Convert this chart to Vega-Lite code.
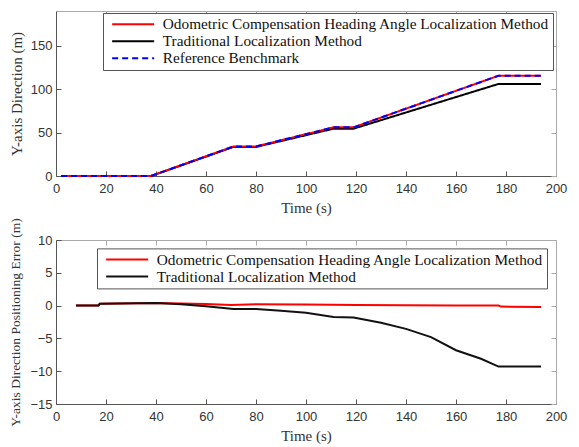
{
  "$schema": "https://vega.github.io/schema/vega-lite/v6.json",
  "background": "white",
  "padding": {"left": 8, "top": 10, "right": 5, "bottom": 5},
  "bounds": "flush",
  "spacing": 64,
  "datasets": {
    "top": [
      {"t": 2, "v": 0, "s": "Traditional Localization Method"},
      {"t": 38, "v": 0, "s": "Traditional Localization Method"},
      {"t": 71, "v": 33.5, "s": "Traditional Localization Method"},
      {"t": 80, "v": 33.5, "s": "Traditional Localization Method"},
      {"t": 111, "v": 54.5, "s": "Traditional Localization Method"},
      {"t": 119, "v": 54.5, "s": "Traditional Localization Method"},
      {"t": 177, "v": 106, "s": "Traditional Localization Method"},
      {"t": 194, "v": 106, "s": "Traditional Localization Method"},
      {"t": 2, "v": 0, "s": "Odometric Compensation Heading Angle Localization Method"},
      {"t": 38, "v": 0, "s": "Odometric Compensation Heading Angle Localization Method"},
      {"t": 71, "v": 34, "s": "Odometric Compensation Heading Angle Localization Method"},
      {"t": 80, "v": 34, "s": "Odometric Compensation Heading Angle Localization Method"},
      {"t": 111, "v": 56, "s": "Odometric Compensation Heading Angle Localization Method"},
      {"t": 119, "v": 56, "s": "Odometric Compensation Heading Angle Localization Method"},
      {"t": 177, "v": 115.5, "s": "Odometric Compensation Heading Angle Localization Method"},
      {"t": 194, "v": 115.5, "s": "Odometric Compensation Heading Angle Localization Method"},
      {"t": 2, "v": 0, "s": "Reference Benchmark"},
      {"t": 38, "v": 0, "s": "Reference Benchmark"},
      {"t": 71, "v": 34, "s": "Reference Benchmark"},
      {"t": 80, "v": 34, "s": "Reference Benchmark"},
      {"t": 111, "v": 56, "s": "Reference Benchmark"},
      {"t": 119, "v": 56, "s": "Reference Benchmark"},
      {"t": 177, "v": 115.5, "s": "Reference Benchmark"},
      {"t": 194, "v": 115.5, "s": "Reference Benchmark"}
    ],
    "bottom": [
      {"t": 8, "v": 0, "s": "Traditional Localization Method"},
      {"t": 17, "v": 0, "s": "Traditional Localization Method"},
      {"t": 17.5, "v": 0.3, "s": "Traditional Localization Method"},
      {"t": 40, "v": 0.4, "s": "Traditional Localization Method"},
      {"t": 50, "v": 0.2, "s": "Traditional Localization Method"},
      {"t": 60, "v": -0.1, "s": "Traditional Localization Method"},
      {"t": 71, "v": -0.5, "s": "Traditional Localization Method"},
      {"t": 80, "v": -0.5, "s": "Traditional Localization Method"},
      {"t": 90, "v": -0.8, "s": "Traditional Localization Method"},
      {"t": 100, "v": -1.1, "s": "Traditional Localization Method"},
      {"t": 111, "v": -1.75, "s": "Traditional Localization Method"},
      {"t": 119, "v": -1.8, "s": "Traditional Localization Method"},
      {"t": 130, "v": -2.6, "s": "Traditional Localization Method"},
      {"t": 140, "v": -3.55, "s": "Traditional Localization Method"},
      {"t": 150, "v": -4.8, "s": "Traditional Localization Method"},
      {"t": 160, "v": -6.8, "s": "Traditional Localization Method"},
      {"t": 170, "v": -8.1, "s": "Traditional Localization Method"},
      {"t": 177, "v": -9.3, "s": "Traditional Localization Method"},
      {"t": 194, "v": -9.3, "s": "Traditional Localization Method"},
      {"t": 8, "v": 0, "s": "Odometric Compensation Heading Angle Localization Method"},
      {"t": 17, "v": 0, "s": "Odometric Compensation Heading Angle Localization Method"},
      {"t": 17.5, "v": 0.3, "s": "Odometric Compensation Heading Angle Localization Method"},
      {"t": 40, "v": 0.4, "s": "Odometric Compensation Heading Angle Localization Method"},
      {"t": 60, "v": 0.25, "s": "Odometric Compensation Heading Angle Localization Method"},
      {"t": 70, "v": 0.1, "s": "Odometric Compensation Heading Angle Localization Method"},
      {"t": 80, "v": 0.2, "s": "Odometric Compensation Heading Angle Localization Method"},
      {"t": 100, "v": 0.15, "s": "Odometric Compensation Heading Angle Localization Method"},
      {"t": 120, "v": 0.1, "s": "Odometric Compensation Heading Angle Localization Method"},
      {"t": 140, "v": 0.05, "s": "Odometric Compensation Heading Angle Localization Method"},
      {"t": 160, "v": 0, "s": "Odometric Compensation Heading Angle Localization Method"},
      {"t": 177, "v": 0, "s": "Odometric Compensation Heading Angle Localization Method"},
      {"t": 178, "v": -0.15, "s": "Odometric Compensation Heading Angle Localization Method"},
      {"t": 194, "v": -0.2, "s": "Odometric Compensation Heading Angle Localization Method"}
    ]
  },
  "config": {
    "view": {"stroke": null},
    "axis": {
      "grid": false,
      "domainColor": "#555555",
      "tickColor": "#555555",
      "tickSize": -5,
      "labelFont": "Liberation Sans",
      "labelFontSize": 13,
      "labelColor": "#333333",
      "labelFlush": false,
      "labelOverlap": false,
      "titleFont": "Liberation Serif",
      "titleFontSize": 15,
      "titleFontWeight": "normal",
      "titleColor": "#333333"
    },
    "axisX": {"labelPadding": 11, "titlePadding": 5},
    "axisY": {"labelPadding": 9, "titlePadding": 6},
    "legend": {
      "orient": "none",
      "title": null,
      "fillColor": "white",
      "strokeColor": "#555555",
      "padding": 3.5,
      "labelFont": "Liberation Serif",
      "labelFontSize": 15.3,
      "labelColor": "#111111",
      "labelLimit": 600,
      "labelOffset": 22,
      "symbolType": "M-10,0H10",
      "symbolSize": 17.64,
      "symbolOffset": 19,
      "symbolStrokeWidth": 2,
      "rowPadding": 1
    }
  },
  "resolve": {"scale": {"color": "independent", "strokeDash": "independent"}, "legend": {"color": "independent", "strokeDash": "independent"}},
  "vconcat": [
    {
      "width": 500,
      "height": 165,
      "data": {"name": "top"},
      "resolve": {"scale": {"x": "independent", "y": "independent"}},
      "layer": [
        {
          "encoding": {
            "x": {"field": "t", "type": "quantitative", "scale": {"domain": [0, 200], "nice": false}, "axis": {"title": "Time (s)", "values": [0, 20, 40, 60, 80, 100, 120, 140, 160, 180, 200]}},
            "y": {"field": "v", "type": "quantitative", "scale": {"domain": [0, 190], "nice": false}, "axis": {"title": "Y-axis Direction (m)", "values": [0, 50, 100, 150]}},
            "color": {"field": "s", "type": "nominal", "scale": {"domain": ["Odometric Compensation Heading Angle Localization Method", "Traditional Localization Method", "Reference Benchmark"], "range": ["#ff0000", "#000000", "#0000ff"]}, "legend": {"legendX": 47, "legendY": 2}},
            "strokeDash": {"field": "s", "type": "nominal", "scale": {"domain": ["Odometric Compensation Heading Angle Localization Method", "Traditional Localization Method", "Reference Benchmark"], "range": [[1, 0], [1, 0], [6, 4]]}, "legend": {"legendX": 47, "legendY": 2}}
          },
          "layer": [
            {"transform": [{"filter": "datum.s == 'Traditional Localization Method'"}], "mark": {"type": "line", "strokeWidth": 2}},
            {"transform": [{"filter": "datum.s == 'Odometric Compensation Heading Angle Localization Method'"}], "mark": {"type": "line", "strokeWidth": 2}},
            {"transform": [{"filter": "datum.s == 'Reference Benchmark'"}], "mark": {"type": "line", "strokeWidth": 2}}
          ]
        },
        {
          "mark": {"type": "line", "opacity": 0},
          "encoding": {
            "x": {"field": "t", "type": "quantitative", "scale": {"domain": [0, 200], "nice": false}, "axis": {"orient": "top", "labels": false, "title": null, "domainColor": "#aaaaaa", "tickColor": "#aaaaaa", "values": [0, 20, 40, 60, 80, 100, 120, 140, 160, 180, 200]}},
            "y": {"field": "v", "type": "quantitative", "scale": {"domain": [0, 190], "nice": false}, "axis": {"orient": "right", "labels": false, "title": null, "domainColor": "#aaaaaa", "tickColor": "#aaaaaa", "values": [0, 50, 100, 150]}}
          }
        }
      ]
    },
    {
      "width": 500,
      "height": 164,
      "data": {"name": "bottom"},
      "resolve": {"scale": {"x": "independent", "y": "independent"}},
      "layer": [
        {
          "encoding": {
            "x": {"field": "t", "type": "quantitative", "scale": {"domain": [0, 200], "nice": false}, "axis": {"title": "Time (s)", "values": [0, 20, 40, 60, 80, 100, 120, 140, 160, 180, 200]}},
            "y": {"field": "v", "type": "quantitative", "scale": {"domain": [-15, 10], "nice": false}, "axis": {"title": "Y-axis Direction Positioning Error (m)", "titleFontSize": 13.5, "titlePadding": 7.5, "values": [-15, -10, -5, 0, 5, 10]}},
            "color": {"field": "s", "type": "nominal", "scale": {"domain": ["Odometric Compensation Heading Angle Localization Method", "Traditional Localization Method"], "range": ["#ff0000", "#111111"]}, "legend": {"legendX": 41, "legendY": 8.4}}
          },
          "layer": [
            {"transform": [{"filter": "datum.s == 'Odometric Compensation Heading Angle Localization Method'"}], "mark": {"type": "line", "strokeWidth": 2}},
            {"transform": [{"filter": "datum.s == 'Traditional Localization Method'"}], "mark": {"type": "line", "strokeWidth": 2}}
          ]
        },
        {
          "mark": {"type": "line", "opacity": 0},
          "encoding": {
            "x": {"field": "t", "type": "quantitative", "scale": {"domain": [0, 200], "nice": false}, "axis": {"orient": "top", "labels": false, "title": null, "domainColor": "#aaaaaa", "tickColor": "#aaaaaa", "values": [0, 20, 40, 60, 80, 100, 120, 140, 160, 180, 200]}},
            "y": {"field": "v", "type": "quantitative", "scale": {"domain": [-15, 10], "nice": false}, "axis": {"orient": "right", "labels": false, "title": null, "domainColor": "#aaaaaa", "tickColor": "#aaaaaa", "values": [-15, -10, -5, 0, 5, 10]}}
          }
        }
      ]
    }
  ]
}
